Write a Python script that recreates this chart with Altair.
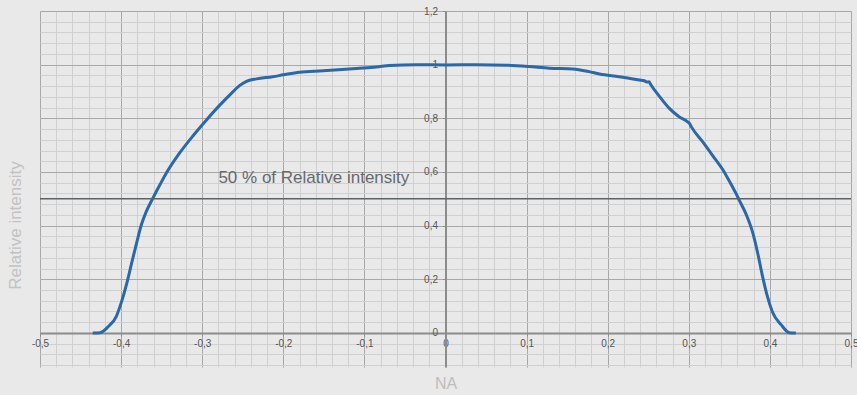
import altair as alt
import pandas as pd

# ---- data ----
na = [-0.435, -0.426, -0.416, -0.406, -0.400, -0.393, -0.387, -0.381, -0.375, -0.369,
      -0.361, -0.352, -0.344, -0.328, -0.311, -0.295, -0.278, -0.264, -0.254, -0.246,
      -0.233, -0.213, -0.200, -0.180, -0.151, -0.110, -0.085, -0.069, -0.036, 0.001,
      0.038, 0.075, 0.103, 0.128, 0.157, 0.177, 0.190, 0.214, 0.239, 0.245,
      0.249, 0.251, 0.253, 0.264, 0.276, 0.288, 0.299, 0.301, 0.303, 0.317,
      0.329, 0.342, 0.348, 0.358, 0.362, 0.371, 0.379, 0.385, 0.391, 0.397,
      0.403, 0.414, 0.424, 0.432]
intensity = [0.000, 0.001, 0.023, 0.061, 0.111, 0.185, 0.260, 0.334, 0.403, 0.452,
             0.501, 0.553, 0.597, 0.670, 0.736, 0.793, 0.850, 0.893, 0.922, 0.937,
             0.947, 0.955, 0.962, 0.972, 0.977, 0.986, 0.991, 0.997, 1.000, 0.999,
             1.000, 0.998, 0.993, 0.987, 0.984, 0.974, 0.965, 0.955, 0.943, 0.940,
             0.935, 0.936, 0.926, 0.881, 0.837, 0.806, 0.786, 0.780, 0.769, 0.713,
             0.663, 0.608, 0.577, 0.521, 0.496, 0.440, 0.372, 0.297, 0.210, 0.135,
             0.079, 0.030, 0.001, 0.000]

x_ticks = [-0.5, -0.4, -0.3, -0.2, -0.1, 0, 0.1, 0.2, 0.3, 0.4, 0.5]
y_ticks = [0, 0.2, 0.4, 0.6, 0.8, 1, 1.2]
x_minor = [round(-0.5 + 0.02 * i, 2) for i in range(51)]
y_minor = [round(-0.12 + 0.04 * i, 2) for i in range(34)]

half_label = ["50 % of Relative intensity"]
half_level = [0.5]

X_DOM = [-0.5, 0.5]
Y_DOM = [-0.127, 1.2]

FONT = "Liberation Sans"
LABEL_EXPR = "replace(datum.value + '', '.', ',')"

df = pd.DataFrame({"NA": na, "I": intensity})


def xs():
    return alt.Scale(domain=X_DOM, nice=False, zero=False)


def ys():
    return alt.Scale(domain=Y_DOM, nice=False, zero=False)


minor = alt.Chart(df).mark_line(opacity=0).encode(
    x=alt.X("NA:Q", scale=xs(), title=None,
            axis=alt.Axis(orient="top", values=x_minor, grid=True, gridColor="#d0d0d0",
                          gridWidth=1, labels=False, ticks=False, domain=False)),
    y=alt.Y("I:Q", scale=ys(), title=None,
            axis=alt.Axis(orient="right", values=y_minor, grid=True, gridColor="#d0d0d0",
                          gridWidth=1, labels=False, ticks=False, domain=False)),
)

main = alt.Chart(df).mark_line(color="#2a68a8", strokeWidth=3, interpolate="monotone").encode(
    x=alt.X("NA:Q", scale=xs(),
            axis=alt.Axis(orient="bottom", values=x_ticks, grid=True, gridColor="#a8a8a8",
                          offset=-34, domainColor="#8c8c8c", domainWidth=2,
                          tickColor="#8c8c8c", tickSize=3, labelExpr=LABEL_EXPR,
                          labelFont=FONT, labelFontSize=10, labelColor="#555555",
                          labelPadding=2, labelFlush=False,
                          title="NA", titleY=50, titleBaseline="middle",
                          titleFont=FONT, titleFontSize=16, titleFontWeight="normal",
                          titleColor="#bdbdbd")),
    y=alt.Y("I:Q", scale=ys(),
            axis=alt.Axis(orient="left", values=y_ticks, grid=True, gridColor="#a8a8a8",
                          offset=-405.5, domainColor="#8c8c8c", domainWidth=2,
                          tickColor="#8c8c8c", tickSize=3, labelExpr=LABEL_EXPR,
                          labelFont=FONT, labelFontSize=10, labelColor="#555555",
                          labelPadding=5,
                          title="Relative intensity", titleX=-430, titleY=214,
                          titleAngle=270, titleAlign="center", titleBaseline="middle",
                          titleFont=FONT, titleFontSize=17, titleFontWeight="normal",
                          titleColor="#c2c2c2")),
)

rule = alt.Chart(pd.DataFrame({"y": half_level})).mark_rule(
    color="#5c6166", strokeWidth=1.5
).encode(y=alt.Y("y:Q", scale=ys(), axis=None))

text = alt.Chart(pd.DataFrame({"x": [-0.28], "y": [0.578], "t": half_label})).mark_text(
    align="left", baseline="middle", font=FONT, fontSize=17, color="#666a6e"
).encode(
    x=alt.X("x:Q", scale=xs(), axis=None),
    y=alt.Y("y:Q", scale=ys(), axis=None),
    text="t:N",
)

chart = alt.layer(minor, main, rule, text).resolve_scale(
    x="independent", y="independent"
).properties(
    width=811, height=356,
    padding={"left": 40, "top": 11, "right": 6, "bottom": 28},
    autosize=alt.AutoSizeParams(type="none"),
    background="#e9e9e9",
).configure_view(strokeWidth=0)

chart.save("out.html", embed_options={"renderer": "svg", "actions": False})
